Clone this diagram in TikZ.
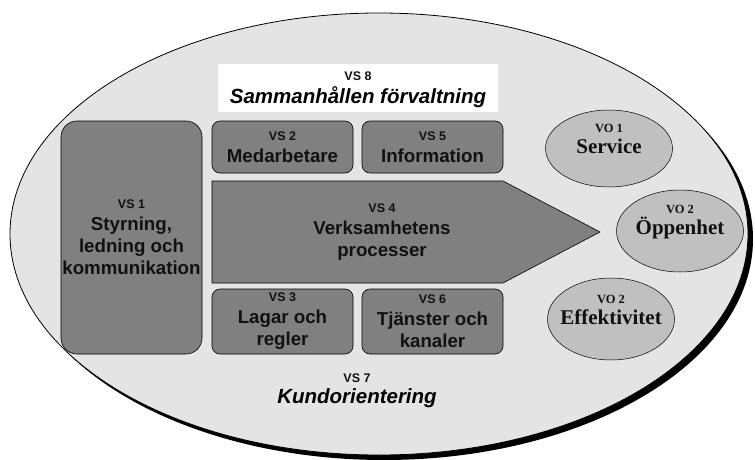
\documentclass[tikz,border=0pt]{standalone}
\usepackage{fontspec}
\setmainfont{Liberation Serif}
\setsansfont{Liberation Sans}
\usetikzlibrary{shapes.geometric,positioning}
\definecolor{ovalFill}{HTML}{E4E4E4}
\definecolor{areaGray}{HTML}{808080}
\definecolor{goalGray}{HTML}{C0C0C0}
\definecolor{ink}{HTML}{111111}

\newcommand{\bigtxt}{\fontsize{18.7}{22}\selectfont}
\newcommand{\vsnum}{\fontsize{12.5}{19}\selectfont}
\newcommand{\vonum}{\fontsize{12.5}{21}\selectfont}
\newcommand{\votxt}{\fontsize{21}{21}\selectfont}

\begin{document}
\begin{tikzpicture}[x=1pt,y=-1pt,
  area/.style={draw=black,fill=areaGray,rounded corners=8pt,line width=0.6pt,inner sep=0pt},
  goal/.style={ellipse,draw=black,fill=goalGray,line width=0.5pt,inner sep=0pt},
  lbl/.style={align=center,font=\sffamily\bfseries\bigtxt,text=ink},
  golbl/.style={align=center,font=\rmfamily\bfseries\votxt,text=ink},
  theme/.style={align=center,font=\sffamily\bfseries\itshape\fontsize{20.5}{22}\selectfont,text=black}
]
  \useasboundingbox (0,0) rectangle (755,460);
  % outer oval and its shadow
  \fill[black] (384,239) ellipse [x radius=369pt,y radius=221pt];
  \draw[fill=ovalFill,line width=0.8pt] (379,234) ellipse [x radius=369pt,y radius=221pt];

  % VS 8 band
  \node[fill=white,minimum width=280pt,minimum height=48pt] (vs8) at (358,88) {};
  \node[lbl,font=\sffamily\bfseries\vsnum] at (358,76) {VS 8};
  \node[theme] at (358,97) {Sammanhållen förvaltning};

  % areas
  \node[area,rounded corners=16pt,minimum width=141pt,minimum height=233pt] (vs1) at (131.5,237.5) {};
  \node[area,minimum width=141pt,minimum height=52pt] (vs2) at (282.5,147) {};
  \node[area,minimum width=141pt,minimum height=52pt] (vs5) at (432.5,147) {};
  \node[area,minimum width=141pt,minimum height=65pt] (vs3) at (282.5,321.5) {};
  \node[area,minimum width=141pt,minimum height=65pt] (vs6) at (432.5,321.5) {};
  \draw[fill=areaGray,line width=0.6pt] (212,181) coordinate (p1) -- (503,181) -- (600,232) coordinate (tip)
    -- (503,283) -- (212,283) -- cycle;

  \node[lbl] at (vs1) {{\vsnum VS 1}\\Styrning,\\ledning och\\kommunikation};
  \node[lbl] at (vs2) {{\vsnum VS 2}\\Medarbetare};
  \node[lbl] at (vs5) {{\vsnum VS 5}\\Information};
  \node[lbl] at (vs3) {{\vsnum VS 3}\\Lagar och\\regler};
  \node[lbl] at (vs6) {{\vsnum VS 6}\\Tjänster och\\kanaler};
  \node[lbl] (vs4) at (382,232) {{\vsnum VS 4}\\Verksamhetens\\processer};

  % VS 7
  \node[lbl,font=\sffamily\bfseries\vsnum] at (357,378) {VS 7};
  \node[theme] at (357,398) {Kundorientering};

  % goals
  \node[goal,minimum width=127pt,minimum height=77pt] (vo1) at (609,148.5) {};
  \node[goal,minimum width=127pt,minimum height=82pt] (vo2) at (680,231) {};
  \node[goal,minimum width=127pt,minimum height=82pt] (vo3) at (611,319) {};
  \node[golbl] at ([yshift=10pt]vo1.center) {{\vonum VO 1}\\Service};
  \node[golbl] at ([yshift=9pt]vo2.center) {{\vonum VO 2}\\Öppenhet};
  \node[golbl] at ([yshift=9pt]vo3.center) {{\vonum VO 2}\\Effektivitet};
\end{tikzpicture}
\end{document}
